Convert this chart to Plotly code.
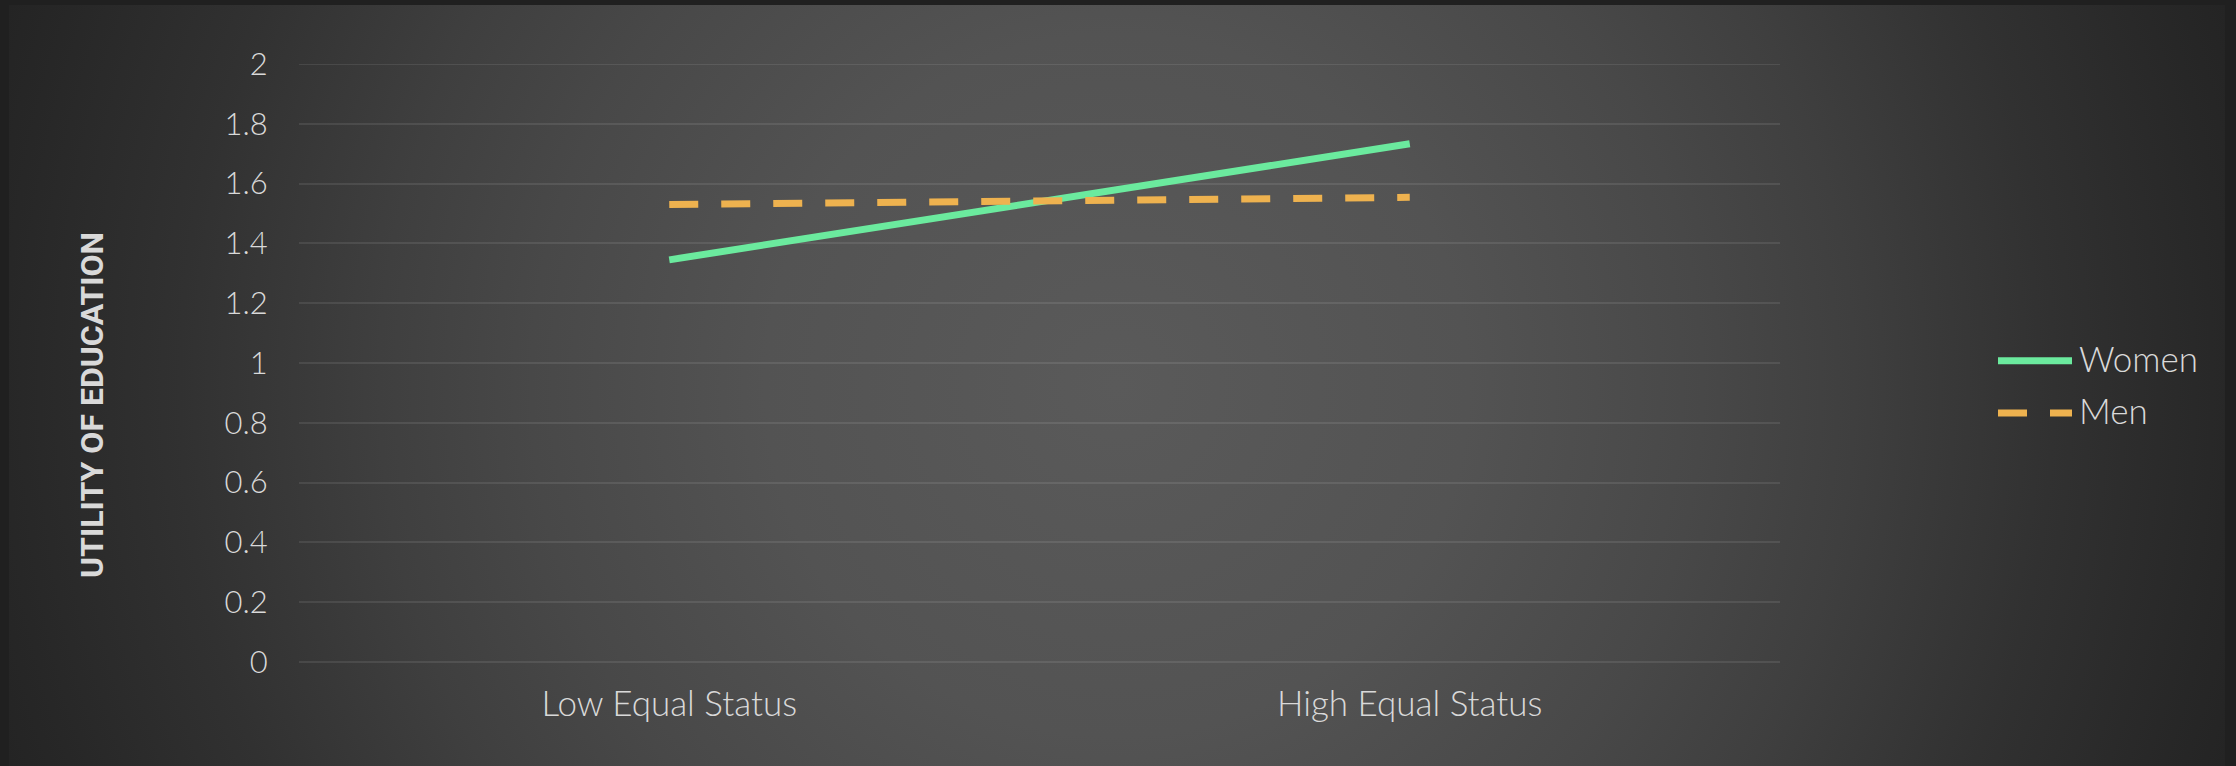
import base64
import plotly.graph_objects as go

# ---- data ----
categories = ["Low Equal Status", "High Equal Status"]
women = [1.345, 1.733]
men = [1.530, 1.554]
y_ticks = [0, 0.2, 0.4, 0.6, 0.8, 1, 1.2, 1.4, 1.6, 1.8, 2]
y_tick_text = ["0", "0.2", "0.4", "0.6", "0.8", "1", "1.2", "1.4", "1.6", "1.8", "2"]
series_names = ["Women", "Men"]

# ---- geometry (pixels) ----
W, H = 2236, 766
ML, MR, MT, MB = 299, 456, 64, 104
PW, PH = W - ML - MR, H - MT - MB

GREEN = "#6BEA9E"
ORANGE = "#EEB24F"
TEXT = "#D9D9D9"
GRID = "rgba(255,255,255,0.09)"
FONT = "Lato, 'Open Sans', sans-serif"


def px_x(px):
    return (px - ML) / PW


def px_y(py):
    return (H - MB - py) / PH


# dark radial backdrop built as an inline SVG
stops = [(0.0, 90), (0.3, 83), (0.5, 72), (0.63, 63), (0.8, 49), (0.95, 39), (1.0, 36)]
stop_xml = "".join(
    f'<stop offset="{o}" stop-color="rgb({v},{v},{v})"/>' for o, v in stops
)
svg = (
    f'<svg xmlns="http://www.w3.org/2000/svg" width="{W}" height="{H}" viewBox="0 0 {W} {H}">'
    f'<defs><radialGradient id="g" gradientUnits="userSpaceOnUse" cx="1117" cy="385" r="1171">'
    f"{stop_xml}</radialGradient></defs>"
    f'<rect x="0" y="0" width="{W}" height="{H}" fill="#202020"/>'
    f'<rect x="9" y="5" width="2216" height="761" fill="url(#g)"/>'
    f"</svg>"
)
bg_uri = "data:image/svg+xml;base64," + base64.b64encode(svg.encode()).decode()

fig = go.Figure()
fig.add_trace(go.Scatter(
    x=categories, y=women, name=series_names[0], mode="lines",
    line=dict(color=GREEN, width=7), showlegend=False,
))
fig.add_trace(go.Scatter(
    x=categories, y=men, name=series_names[1], mode="lines",
    line=dict(color=ORANGE, width=7, dash="29px,23px"), showlegend=False,
))

shapes = []
annotations = []

# gridline at the top of the value range (plotly skips the edge one)
shapes.append(dict(
    type="line", xref="paper", yref="y", x0=0, x1=1, y0=y_ticks[-1], y1=y_ticks[-1],
    line=dict(color=GRID, width=2), layer="below",
))

# legend drawn by hand: long line swatches beside the labels
leg_x0, leg_x1, leg_text_x = 1998, 2072, 2077
leg_rows = [(360.7, GREEN, "solid"), (413.0, ORANGE, "29px,23px")]
for (yy, col, dash), name in zip(leg_rows, series_names):
    shapes.append(dict(
        type="line", xref="paper", yref="paper",
        x0=px_x(leg_x0), x1=px_x(leg_x1), y0=px_y(yy), y1=px_y(yy),
        line=dict(color=col, width=7, dash=dash),
    ))
    annotations.append(dict(
        xref="paper", yref="paper", x=px_x(leg_text_x), y=px_y(yy - 3),
        xanchor="left", yanchor="middle", showarrow=False, text=name,
        font=dict(family=FONT, size=35, color=TEXT, weight=300),
    ))

# vertical axis title
annotations.append(dict(
    xref="paper", yref="paper", x=px_x(92), y=px_y(405),
    xanchor="center", yanchor="middle", showarrow=False,
    text="<b>UTILITY OF EDUCATION</b>", textangle=-90,
    font=dict(family="Roboto, 'Liberation Sans', sans-serif", size=32, color=TEXT),
))

fig.update_layout(
    width=W, height=H,
    margin=dict(l=ML, r=MR, t=MT, b=MB, pad=0),
    paper_bgcolor="#202020",
    plot_bgcolor="rgba(0,0,0,0)",
    showlegend=False,
    shapes=shapes,
    annotations=annotations,
    images=[dict(
        source=bg_uri, xref="paper", yref="paper",
        x=-ML / PW, y=1 + MT / PH, sizex=W / PW, sizey=H / PH,
        xanchor="left", yanchor="top", sizing="stretch", layer="below",
    )],
    xaxis=dict(
        type="category", range=[-0.5, 1.5], showgrid=False, zeroline=False,
        showline=False, ticks="outside", ticklen=11, tickcolor="rgba(0,0,0,0)",
        tickfont=dict(family=FONT, size=35, color=TEXT, weight=300),
    ),
    yaxis=dict(
        range=[0, 2], tickvals=y_ticks, ticktext=y_tick_text,
        showgrid=True, gridcolor=GRID, gridwidth=2,
        zeroline=True, zerolinecolor=GRID, zerolinewidth=2,
        showline=False, ticks="outside", ticklen=24, tickcolor="rgba(0,0,0,0)",
        tickfont=dict(family=FONT, size=31, color=TEXT, weight=300),
    ),
)

fig.write_html("out.html")
